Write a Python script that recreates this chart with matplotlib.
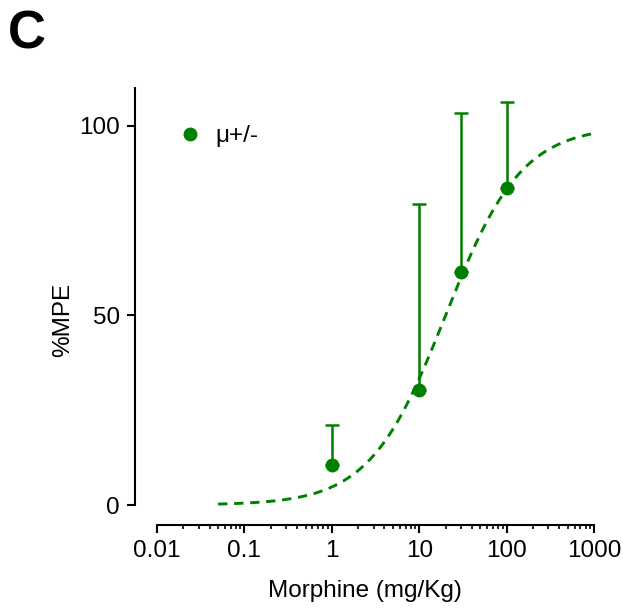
import matplotlib

matplotlib.use("Agg")

import matplotlib.pyplot as plt
import numpy as np
from matplotlib.lines import Line2D
from matplotlib.ticker import FixedLocator, NullFormatter

plt.rcParams["font.family"] = ["Liberation Sans", "DejaVu Sans"]

# data
dose = [1, 10, 30, 100]
mpe = [10.5, 30.3, 61.5, 83.6]
err_up = [10.6, 49.1, 41.9, 22.7]

# fitted dose-response curve (Hill), parameters
ec50 = 20.0
hill = 1.0
top = 100.0
fit_range = (0.05, 1000)

x_ticks = [0.01, 0.1, 1, 10, 100, 1000]
x_labels = ["0.01", "0.1", "1", "10", "100", "1000"]
y_ticks = [0, 50, 100]

green = "#008000"

fig = plt.figure(figsize=(6.23, 6.10), dpi=100)
ax = fig.add_axes([0.2167, 0.1393, 0.9535 - 0.2167, 0.8557 - 0.1393])

xs = np.logspace(np.log10(fit_range[0]), np.log10(fit_range[1]), 300)
ax.plot(xs, top * xs**hill / (xs**hill + ec50**hill), color=green, lw=2.1,
        ls=(0, (3.2, 2.3)))

ax.errorbar(dose, mpe, yerr=[np.zeros(len(err_up)), err_up], fmt="o",
            color=green, ms=9, elinewidth=1.8, capsize=5, capthick=1.8)

ax.set_xscale("log")
ax.set_xlim(10 ** (-2 - 22 / 87.4), 1000)
ax.set_ylim(-20 / 3.79, 110)

for side in ("top", "right"):
    ax.spines[side].set_visible(False)
ax.spines["left"].set_bounds(0, 110)
ax.spines["bottom"].set_bounds(0.01, 1000)
ax.spines["left"].set_linewidth(1.5)
ax.spines["bottom"].set_linewidth(1.5)

minor = [m * 10.0**e for e in range(-2, 3) for m in range(2, 10)]
ax.xaxis.set_major_locator(FixedLocator(x_ticks))
ax.set_xticklabels(x_labels)
ax.xaxis.set_minor_locator(FixedLocator(minor))
ax.xaxis.set_minor_formatter(NullFormatter())
ax.set_yticks(y_ticks)
ax.tick_params(axis="both", which="major", length=6, width=1.5, labelsize=17.5,
               pad=5)
ax.tick_params(axis="x", which="minor", length=3, width=1.2)

ax.set_xlabel("Morphine (mg/Kg)", fontsize=17.5, labelpad=13)
ax.set_ylabel("%MPE", fontsize=17.5)
ax.yaxis.set_label_coords(-0.133, 0.469)

handle = Line2D([], [], color=green, marker="o", ms=9, ls="none")
ax.legend([handle], ["μ+/-"], loc="upper left", bbox_to_anchor=(0.032, 0.965),
          frameon=False, fontsize=17.5, handletextpad=0.3, handlelength=1.5)

fig.text(0.012, 0.985, "C", fontsize=38, fontweight="bold", va="top")

fig.savefig("out.png", dpi=100)
